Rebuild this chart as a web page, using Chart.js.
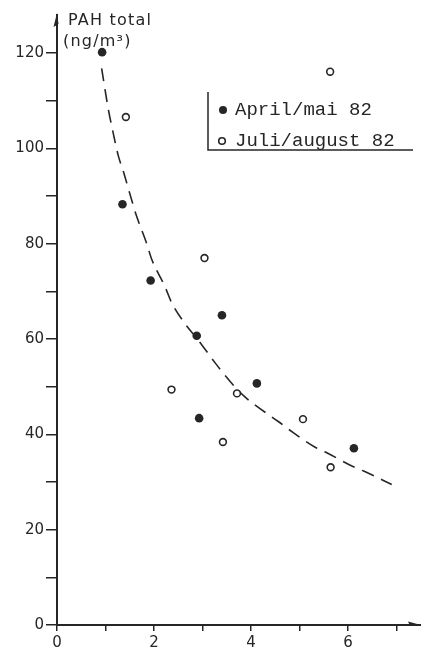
<!DOCTYPE html>
<html>
<head>
<meta charset="utf-8">
<script src="https://cdn.jsdelivr.net/npm/chart.js@4"></script>
<style>
html,body{margin:0;padding:0;background:#fff;}
#wrap{width:422px;height:650px;}
</style>
</head>
<body>
<div id="wrap"><canvas id="c" width="422" height="650"></canvas></div>
<script>
// Data
const seriesLabels = ["April/mai 82", "Juli/august 82"];
const aprilX = [0.93, 1.35, 1.93, 2.88, 2.93, 3.40, 4.12, 6.12];
const aprilY = [120.2, 88.3, 72.3, 60.7, 43.4, 65.0, 50.7, 37.1];
const juliX = [1.42, 2.36, 3.04, 3.42, 3.71, 5.07, 5.63, 5.64];
const juliY = [106.6, 49.4, 77.0, 38.4, 48.6, 43.2, 116.1, 33.1];
const curveX = [0.92, 1.06, 1.13, 1.26, 1.37, 1.51, 1.64, 1.85, 1.95, 2.23, 2.36, 2.67, 2.88, 3.26, 3.43, 3.70, 3.88, 4.05, 4.56, 4.77, 5.32, 5.53, 6.11, 6.32, 6.90];
const curveY = [116.8, 108.1, 104.6, 98.6, 95.1, 90.2, 85.8, 80.0, 76.8, 70.9, 67.7, 62.8, 60.2, 55.0, 52.8, 49.6, 47.8, 46.4, 42.7, 41.1, 37.3, 36.3, 33.2, 32.3, 29.5];
const yTitle = ["PAH total", "(ng/m\u00B3)"];
const xLabelValues = [0, 2, 4, 6];
const yLabelValues = [0, 20, 40, 60, 80, 100, 120];

const ink = '#262626';
const toPts = (xs, ys) => xs.map((x, i) => ({x: x, y: ys[i]}));

const decor = {
  id: 'decor',
  afterDraw(chart) {
    const ctx = chart.ctx;
    const a = chart.chartArea;
    ctx.save();
    ctx.strokeStyle = ink;
    ctx.fillStyle = ink;
    ctx.lineWidth = 2;
    // y-axis arrow
    ctx.beginPath();
    ctx.moveTo(a.left, a.top - 2);
    ctx.lineTo(a.left - 3.5, a.top + 12);
    ctx.lineTo(a.left + 1.5, a.top + 9);
    ctx.closePath();
    ctx.fill();
    // x-axis arrow
    ctx.beginPath();
    ctx.moveTo(a.right + 5, a.bottom);
    ctx.lineTo(a.right - 8, a.bottom - 3.5);
    ctx.lineTo(a.right - 6, a.bottom + 1);
    ctx.closePath();
    ctx.fill();
    ctx.beginPath();
    ctx.moveTo(a.right - 8, a.bottom);
    ctx.lineTo(a.right + 5, a.bottom);
    ctx.stroke();
    // axis title
    ctx.font = '16px "DejaVu Sans"';
    ctx.letterSpacing = '1.2px';
    ctx.textAlign = 'left';
    ctx.textBaseline = 'middle';
    ctx.fillText(yTitle[0], a.left + 11, a.top + 6);
    ctx.fillText(yTitle[1], a.left + 6, a.top + 27);
    ctx.letterSpacing = '0px';
    // legend
    const lx = 208, ly1 = 92, ly2 = 150, lx2 = 413;
    ctx.lineWidth = 1.5;
    ctx.beginPath();
    ctx.moveTo(lx, ly1);
    ctx.lineTo(lx, ly2);
    ctx.lineTo(lx2, ly2);
    ctx.stroke();
    ctx.font = '19px "Liberation Mono"';
    ctx.fillText(chart.data.datasets[0].label, 235, 110);
    ctx.fillText(chart.data.datasets[1].label, 235, 141);
    ctx.beginPath();
    ctx.arc(223, 110, 4, 0, Math.PI * 2);
    ctx.fill();
    ctx.beginPath();
    ctx.arc(222, 141, 3.3, 0, Math.PI * 2);
    ctx.lineWidth = 1.6;
    ctx.stroke();
    ctx.restore();
  }
};

new Chart(document.getElementById('c'), {
  type: 'scatter',
  data: {
    datasets: [
      {
        label: seriesLabels[0],
        data: toPts(aprilX, aprilY),
        pointRadius: 4.3,
        pointBackgroundColor: ink,
        pointBorderColor: ink,
        pointBorderWidth: 0
      },
      {
        label: seriesLabels[1],
        data: toPts(juliX, juliY),
        pointRadius: 3.4,
        pointBackgroundColor: '#fff',
        pointBorderColor: ink,
        pointBorderWidth: 1.6
      },
      {
        label: 'curve',
        type: 'line',
        data: toPts(curveX, curveY),
        showLine: true,
        pointRadius: 0,
        borderColor: ink,
        borderWidth: 1.6,
        borderDash: [13, 8],
        cubicInterpolationMode: 'monotone',
        fill: false
      }
    ]
  },
  options: {
    responsive: false,
    animation: false,
    events: [],
    layout: {padding: {top: 15, right: 6, left: 0, bottom: 0}},
    plugins: {legend: {display: false}, tooltip: {enabled: false}},
    scales: {
      x: {
        type: 'linear',
        min: 0,
        max: 7.4,
        afterFit(s) { s.height = 25; },
        border: {display: true, color: ink, width: 2},
        grid: {drawOnChartArea: false, drawTicks: true, tickLength: 6, color: ink, lineWidth: 1.5},
        ticks: {
          stepSize: 1,
          includeBounds: false,
          padding: 3,
          color: ink,
          font: {family: 'DejaVu Sans', size: 15},
          maxRotation: 0,
          autoSkip: false,
          callback: v => xLabelValues.includes(v) ? String(v) : ''
        }
      },
      y: {
        type: 'linear',
        min: 0,
        max: 128,
        afterFit(s) { s.width = 57; },
        border: {display: true, color: ink, width: 2},
        grid: {drawOnChartArea: false, drawTicks: true, tickLength: 11, color: ink, lineWidth: 1.5},
        ticks: {
          stepSize: 10,
          includeBounds: false,
          padding: 2,
          color: ink,
          font: {family: 'DejaVu Sans', size: 15},
          autoSkip: false,
          callback: v => yLabelValues.includes(v) ? String(v) : ''
        }
      }
    }
  },
  plugins: [decor]
});
</script>
</body>
</html>
